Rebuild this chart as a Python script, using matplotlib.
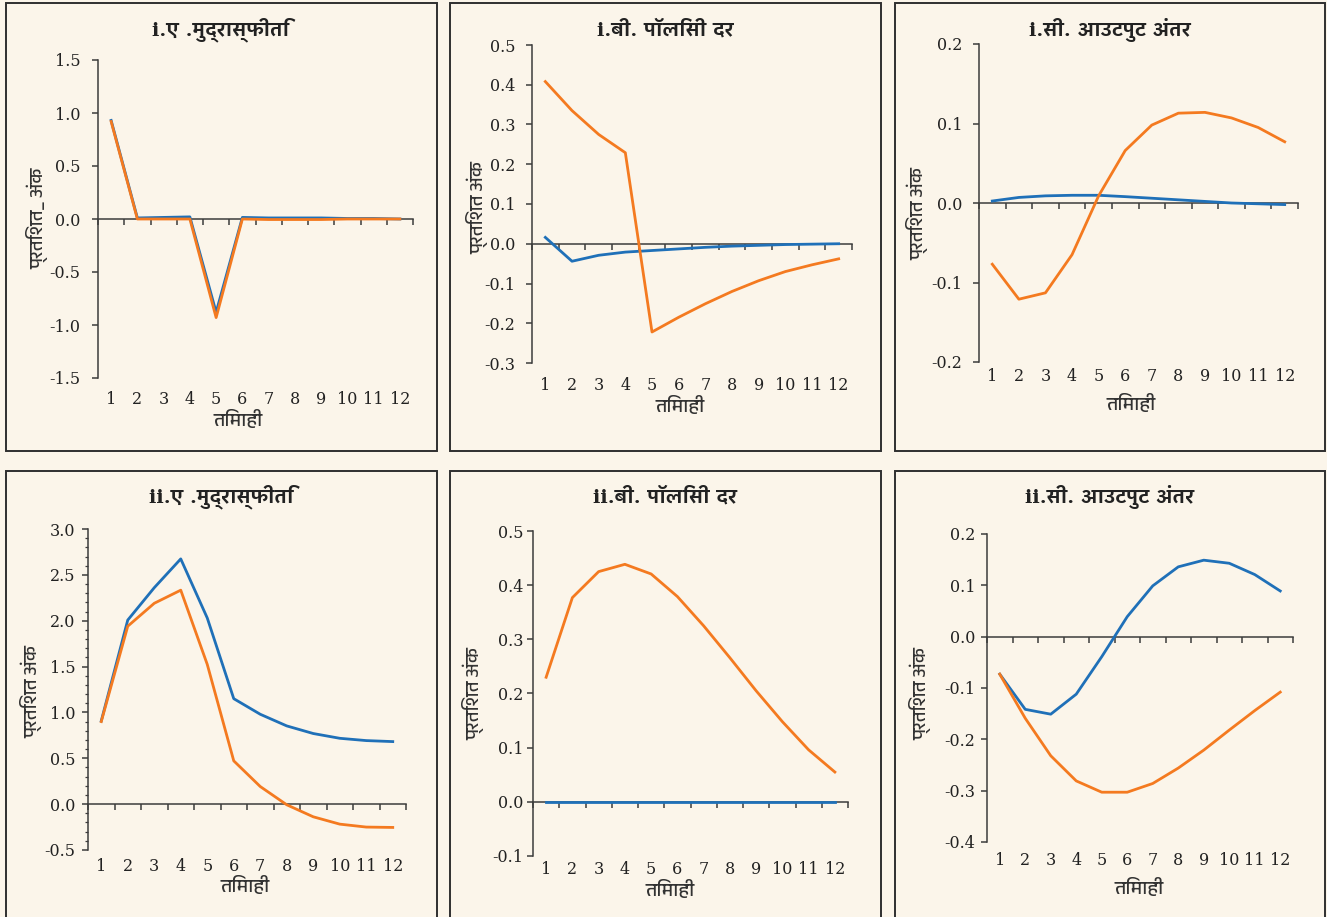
import matplotlib
matplotlib.use("Agg")
import matplotlib.pyplot as plt
from matplotlib import font_manager
from matplotlib.ft2font import FT2Font
from matplotlib.patches import Rectangle
from matplotlib.ticker import MultipleLocator, FuncFormatter

# ---- data ----
quarters = list(range(1, 13))

titles = ["i.ए .मुद्रास्फीति", "i.बी. पॉलिसी दर", "i.सी. आउटपुट अंतर",
          "ii.ए .मुद्रास्फीति", "ii.बी. पॉलिसी दर", "ii.सी. आउटपुट अंतर"]
ylabels = ["प्रतिशत_ अंक", "प्रतिशत अंक", "प्रतिशत अंक",
           "प्रतिशत अंक", "प्रतिशत अंक", "प्रतिशत अंक"]
xlabel = "तिमाही"

ia_blue = [0.93, 0.01, 0.015, 0.02, -0.88, 0.015, 0.01, 0.01, 0.01, 0.005, 0.005, 0.0]
ia_orange = [0.92, 0.0, 0.0, 0.0, -0.93, 0.0, -0.005, -0.005, -0.005, 0.0, 0.0, 0.0]

ib_blue = [0.016, -0.044, -0.029, -0.021, -0.017, -0.013, -0.009, -0.006, -0.004, -0.002, -0.001, 0.0]
ib_orange = [0.408, 0.335, 0.275, 0.229, -0.222, -0.185, -0.151, -0.12, -0.093, -0.07, -0.053, -0.038]

ic_blue = [0.0025, 0.007, 0.009, 0.0097, 0.0097, 0.008, 0.006, 0.004, 0.002, 0.0, -0.001, -0.002]
ic_orange = [-0.077, -0.121, -0.113, -0.065, 0.009, 0.066, 0.098, 0.113, 0.114, 0.107, 0.095, 0.077]

iia_blue = [0.907, 2.007, 2.36, 2.674, 2.03, 1.15, 0.98, 0.853, 0.77, 0.718, 0.693, 0.682]
iia_orange = [0.9, 1.94, 2.19, 2.333, 1.524, 0.472, 0.192, -0.007, -0.138, -0.218, -0.25, -0.254]

iib_blue = [0.0] * 12
iib_orange = [0.23, 0.377, 0.425, 0.4385, 0.4207, 0.379, 0.325, 0.266, 0.205, 0.148, 0.096, 0.055]

iic_blue = [-0.073, -0.1416, -0.151, -0.112, -0.039, 0.039, 0.099, 0.136, 0.149, 0.143, 0.121, 0.089]
iic_orange = [-0.073, -0.159, -0.232, -0.281, -0.303, -0.303, -0.286, -0.256, -0.221, -0.182, -0.144, -0.108]

series = [(ia_blue, ia_orange), (ib_blue, ib_orange), (ic_blue, ic_orange),
          (iia_blue, iia_orange), (iib_blue, iib_orange), (iic_blue, iic_orange)]

# ---- layout, in pixels of the 1327x917 picture ----
W, H = 1327, 917
# axes (l, t, r, b), ylim, major step, minor step, ytick gap, xtick-label y, xlabel xy, ylabel xy, title xy, box
layout = [
    ((98, 60, 413, 378), (-1.5, 1.5), 0.5, None, 12, 397, (238, 419), (37, 218), (221, 30), (6, 3, 437, 451)),
    ((532, 45, 852, 363), (-0.3, 0.5), 0.1, None, 11, 383, (680, 405), (477, 207), (665, 30), (450, 3, 881, 451)),
    ((979, 44, 1298, 362), (-0.2, 0.2), 0.1, None, 11, 374, (1131, 404), (917, 214), (1110, 30), (895, 3, 1325, 451)),
    ((88, 529, 406, 850), (-0.5, 3.0), 0.5, 0.1, 7, 864, (245, 886), (31, 691), (221, 497), (6, 471, 437, 940)),
    ((533, 531, 848, 856), (-0.1, 0.5), 0.1, None, 4, 867, (670, 889), (473, 694), (665, 497), (450, 471, 881, 940)),
    ((987, 534, 1293, 842), (-0.4, 0.2), 0.1, None, 6, 858, (1139, 887), (920, 694), (1110, 497), (895, 471, 1325, 940)),
]

BG = "#FBF5EA"
BLUE = "#1F70B8"
ORANGE = "#F47A20"
AXC = "#3C3C3C"
TXT = "#222222"


# find a font that has Devanagari glyphs
def find_deva(bold=False):
    best = None
    for f in font_manager.fontManager.ttflist:
        try:
            if not FT2Font(f.fname).get_char_index(0x092E):
                continue
        except Exception:
            continue
        if best is None:
            best = f.name
        if ("Devanagari" in f.name) and ((f.weight in ("bold", 700)) == bold or best is None):
            return f.name
    return best


deva = find_deva() or "DejaVu Sans"
deva_b = find_deva(True) or deva

plt.rcParams["font.family"] = ["DejaVu Serif", deva, "DejaVu Sans"]

fig = plt.figure(figsize=(W / 100, H / 100), dpi=100, facecolor=BG)

fmt = FuncFormatter(lambda v, p: f"{v:.1f}".replace("-0.0", "0.0"))

for i, (lay, (blue, orange)) in enumerate(zip(layout, series)):
    (l, t, r, b), ylim, step, minor, ygap, tky, xl, yl, tt, box = lay
    fig.add_artist(Rectangle((box[0] / W, 1 - box[3] / H), (box[2] - box[0]) / W, (box[3] - box[1]) / H,
                             transform=fig.transFigure, fill=False, ec="#2F2F2F", lw=1.4))

    ax = fig.add_axes([l / W, 1 - b / H, (r - l) / W, (b - t) / H])
    ax.set_facecolor("none")
    ax.plot(quarters, blue, color=BLUE, lw=2.0, zorder=3)
    ax.plot(quarters, orange, color=ORANGE, lw=2.0, zorder=3)

    ax.set_xlim(0.5, 12.5)
    ax.set_ylim(*ylim)
    ax.yaxis.set_major_locator(MultipleLocator(step))
    ax.yaxis.set_major_formatter(fmt)
    if minor:
        ax.yaxis.set_minor_locator(MultipleLocator(minor))
        ax.tick_params(axis="y", which="minor", length=2.5, width=0.9, color=AXC)

    for s in ("top", "right"):
        ax.spines[s].set_visible(False)
    for s in ("left", "bottom"):
        ax.spines[s].set_color(AXC)
        ax.spines[s].set_linewidth(1.1)
    ax.spines["bottom"].set_position(("data", 0))

    ax.set_xticks([q + 0.5 for q in [0] + quarters])
    ax.tick_params(axis="x", direction="out", length=4, width=1.1, color=AXC, labelbottom=False)
    ax.tick_params(axis="y", direction="out", length=4, width=1.1, color=AXC,
                   labelsize=11.5, labelcolor=TXT, pad=ygap * 0.72)

    # category labels sit at the bottom of the plot, like Excel's "low" position
    sec = ax.secondary_xaxis(0)
    sec.set_xticks(quarters)
    sec.spines["bottom"].set_visible(False)
    sec.tick_params(length=0, labelsize=11.5, labelcolor=TXT, pad=max((tky - b - 6) * 0.72, 0))

    ax.set_xlabel(xlabel, fontsize=14, color="#333333", family=[deva, "DejaVu Sans"])
    ax.xaxis.set_label_coords((xl[0] - l) / (r - l), (b - xl[1]) / (b - t))
    ax.xaxis.label.set_va("center")
    ax.set_ylabel(ylabels[i], fontsize=13.5, color="#333333", family=[deva, "DejaVu Sans"])
    ax.yaxis.set_label_coords((yl[0] - l) / (r - l), (b - yl[1]) / (b - t))
    ax.yaxis.label.set_va("center")

    ax.set_title(titles[i], x=(tt[0] - l) / (r - l), y=(b - tt[1]) / (b - t), va="center", pad=0,
                 fontsize=14, fontweight="bold", color=TXT,
                 family=["DejaVu Serif", deva_b, "DejaVu Sans"])

fig.savefig("out.png", dpi=100, facecolor=BG)
